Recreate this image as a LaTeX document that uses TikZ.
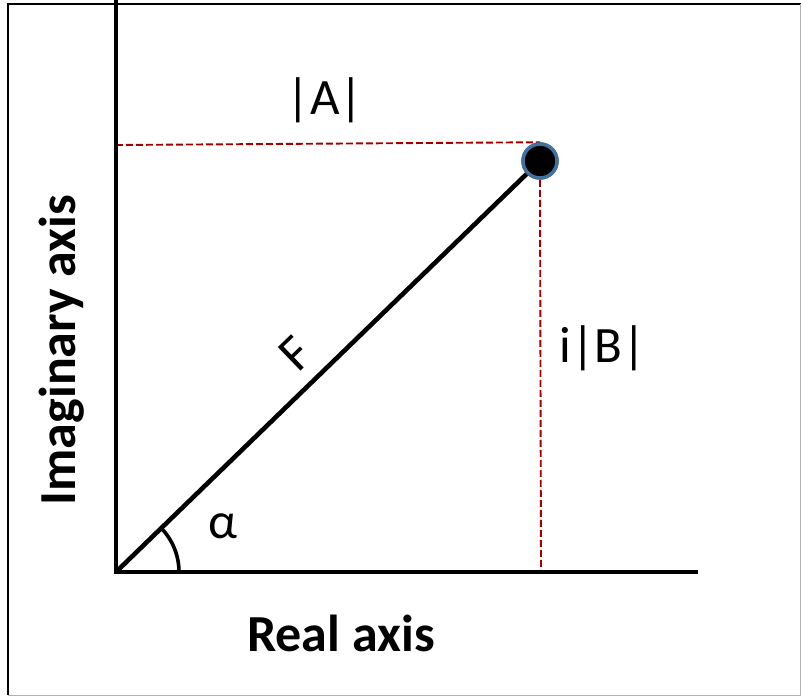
\documentclass[tikz,border=0pt]{standalone}
\usepackage{fontspec}
\setmainfont{Carlito}
\definecolor{dashred}{HTML}{A00000}
\definecolor{dotring}{HTML}{41719C}
\tikzset{
  axisline/.style={line width=4.6pt, line cap=rect},
  guide/.style={dashred, line width=1.9pt, dash pattern=on 7pt off 3pt},
  dotstyle/.style={circle, fill=black, draw=dotring, line width=3.5pt, minimum size=34pt, inner sep=0pt},
  biglabel/.style={font=\fontsize{51}{60}\selectfont, inner sep=0pt},
  boldlabel/.style={font=\fontsize{52}{60}\selectfont\bfseries, inner sep=0pt},
}
\begin{document}
\begin{tikzpicture}[x=1pt,y=-1pt]
\useasboundingbox (0,0) rectangle (801,696);
% frame
\draw[black, line width=1.2pt] (8,695) -- (8,4) -- (801,4);
\draw[gray!60, line width=1pt] (8,695) -- (800,695) -- (800,4);
% coordinates
\coordinate (O) at (116,572);
\coordinate (Ytop) at (116,0);
\coordinate (Xend) at (696,572);
\coordinate (Hstart) at (116,145);
\coordinate (Vend) at (541,572);
\node[dotstyle] (P) at (540,161) {};
% dashed guides
\draw[guide] (Hstart) -- (P.north);
\draw[guide] (P.south) -- (Vend);
% axes
\draw[axisline] (Ytop) -- (O) -- (Xend);
% vector
\draw[line width=4.6pt] (O) -- (P.center);
\node[dotstyle] at (P.center) {};
% angle arc
\draw[line width=3.6pt] ([shift={(0:63)}]O) arc[start angle=0, end angle=-44.2, radius=63];
% labels
\node[biglabel] (A) at (325,100) {|A|};
\node[biglabel] (B) at (603,348) {i|B|};
\node[biglabel, rotate=44] (F) at (296,354) {F};
\node[biglabel] (al) at (223,526) {α};
\node[boldlabel] (rx) at (341,633) {Real axis};
\node[boldlabel, rotate=90] (ix) at (62,350) {Imaginary axis};
\end{tikzpicture}
\end{document}
